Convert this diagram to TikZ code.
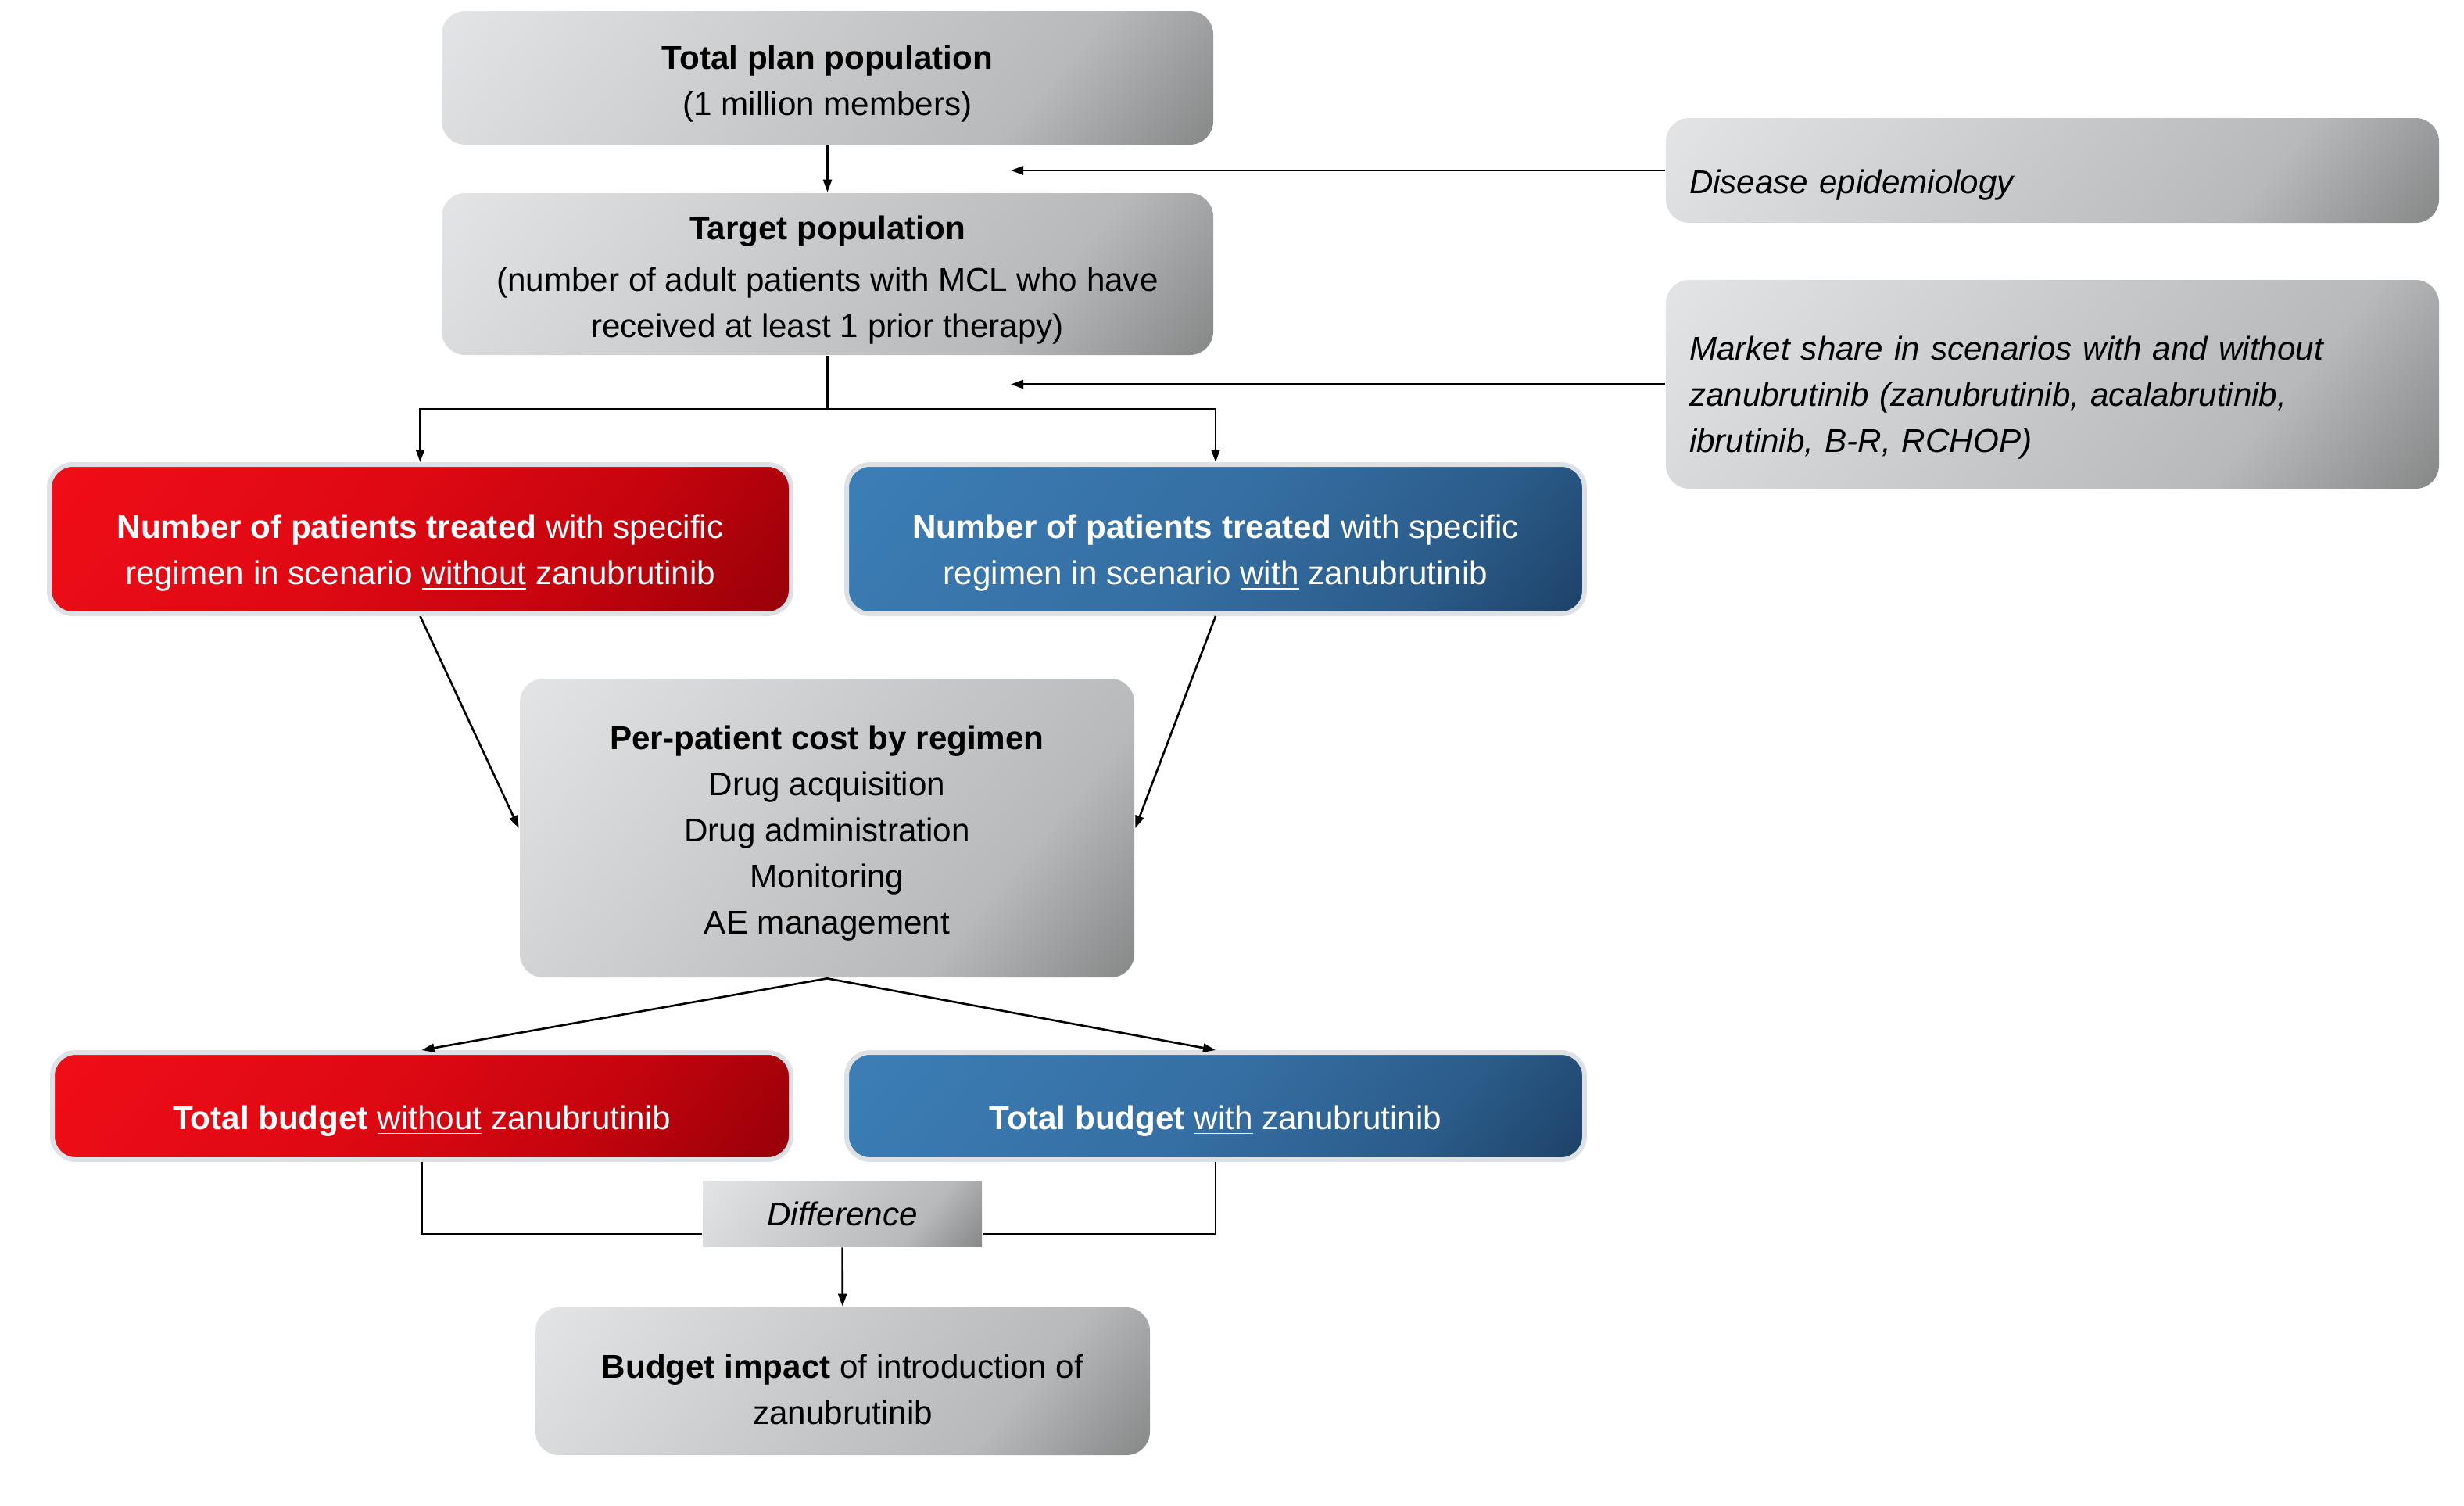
\documentclass[tikz,border=0pt]{standalone}
\usepackage{fontspec}
\setmainfont{Liberation Sans}
\usetikzlibrary{arrows.meta}

\definecolor{greyA}{RGB}{227,228,230}
\definecolor{greyB}{RGB}{198,199,201}
\definecolor{greyC}{RGB}{184,185,187}
\definecolor{greyD}{RGB}{132,133,133}
\definecolor{redA}{RGB}{240,13,23}
\definecolor{redB}{RGB}{222,9,19}
\definecolor{redC}{RGB}{198,4,14}
\definecolor{redD}{RGB}{148,0,8}
\definecolor{blueA}{RGB}{60,126,183}
\definecolor{blueB}{RGB}{53,110,162}
\definecolor{blueC}{RGB}{43,92,138}
\definecolor{blueD}{RGB}{29,64,102}
\definecolor{edgegrey}{RGB}{221,224,228}

\pgfdeclarehorizontalshading{greyshade}{100bp}{color(0bp)=(greyA); color(15bp)=(greyA); color(50bp)=(greyB); color(68bp)=(greyC); color(86bp)=(greyD); color(100bp)=(greyD)}
\pgfdeclarehorizontalshading{redshade}{100bp}{color(0bp)=(redA); color(15bp)=(redA); color(45bp)=(redB); color(65bp)=(redC); color(86bp)=(redD); color(100bp)=(redD)}
\pgfdeclarehorizontalshading{blueshade}{100bp}{color(0bp)=(blueA); color(15bp)=(blueA); color(50bp)=(blueB); color(70bp)=(blueC); color(86bp)=(blueD); color(100bp)=(blueD)}

% text lowered a little inside its box, box size kept
\newcommand{\midtext}[2][0.07cm]{\raisebox{-#1}[\height][\depth]{\begin{tabular}{@{}c@{}}#2\end{tabular}}}
\newcommand{\lefttext}[2][0.17cm]{\raisebox{-#1}[\height][\depth]{\begin{tabular}{@{}l@{}}#2\end{tabular}}}

\begin{document}
\begin{tikzpicture}[
		every node/.style={font=\fontsize{12}{16.8}\selectfont, align=center, inner sep=0pt},
		greybox/.style={shade, shading=greyshade, shading angle=-40, rounded corners=0.3cm},
		redbox/.style={shade, shading=redshade, shading angle=-40, rounded corners=0.3cm, draw=edgegrey, line width=0.06cm, text=white},
		bluebox/.style={shade, shading=blueshade, shading angle=-40, rounded corners=0.3cm, draw=edgegrey, line width=0.06cm, text=white},
		sidebox/.style={greybox, align=left, text width=9.29cm, inner xsep=0.3cm, font=\itshape\fontsize{12}{16.8}\selectfont},
		>={Triangle[length=1.6mm,width=1.1mm]}, line width=0.75pt]
				\useasboundingbox (0,0) rectangle (31.52,-19.25);

				\node[greybox, minimum width=9.87cm, minimum height=1.71cm] (total) at (10.585,-0.995) {\midtext{\textbf{Total plan population}\\(1 million members)}};
				\node[greybox, minimum width=9.87cm, minimum height=2.07cm] (target) at (10.585,-3.505) {\midtext{\textbf{Target population}\\[2pt](number of adult patients with MCL who have\\received at least 1 prior therapy)}};

				\node[sidebox, minimum height=1.34cm] (epi) at (26.255,-2.18) {\lefttext[0.18cm]{Disease epidemiology}};
				\node[sidebox, minimum height=2.67cm] (share) at (26.255,-4.915) {\lefttext[0.16cm]{Market share in scenarios with and without\\zanubrutinib (zanubrutinib, acalabrutinib,\\ibrutinib, B-R, RCHOP)}};

				\node[redbox, minimum width=9.49cm, minimum height=1.91cm] (nowo) at (5.375,-6.895) {\midtext[0.17cm]{\textbf{Number of patients treated} with specific\\regimen in scenario \underline{without} zanubrutinib}};
				\node[bluebox, minimum width=9.44cm, minimum height=1.91cm] (with) at (15.55,-6.895) {\midtext[0.17cm]{\textbf{Number of patients treated} with specific\\regimen in scenario \underline{with} zanubrutinib}};

				\node[greybox, minimum width=7.86cm, minimum height=3.82cm] (cost) at (10.58,-10.59) {\midtext[0.06cm]{\textbf{Per-patient cost by regimen}\\Drug acquisition\\Drug administration\\Monitoring\\AE management}};

				\node[redbox, minimum width=9.45cm, minimum height=1.37cm] (totnowo) at (5.395,-14.145) {\midtext[0.18cm]{\textbf{Total budget} \underline{without} zanubrutinib}};
				\node[bluebox, minimum width=9.44cm, minimum height=1.37cm] (totwith) at (15.55,-14.145) {\midtext[0.18cm]{\textbf{Total budget} \underline{with} zanubrutinib}};

				\node[greybox, sharp corners, minimum width=3.57cm, minimum height=0.84cm, font=\itshape\fontsize{12}{16.8}\selectfont] (diff) at (10.775,-15.52) {Difference};
				\node[greybox, minimum width=7.86cm, minimum height=1.89cm] (impact) at (10.78,-17.665) {\midtext[0.14cm]{\textbf{Budget impact} of introduction of\\zanubrutinib}};

				\coordinate (epiend) at (12.93,-2.18);
				\coordinate (shareend) at (12.93,-4.915);
				\coordinate (split) at (10.585,-5.23);

				\draw[->] (total) -- (target);
				\draw[->] (epi.west) -- (epiend);
				\draw[->] (share.west) -- (shareend);

				\draw (target.south) -- (split);
				\draw[->] (split) -| (nowo.north);
				\draw[->] (split) -| (with.north);

				\draw[->] (nowo.south) -- (cost.west);
				\draw[->] (with.south) -- (cost.east);

				\draw[->] (cost.south) -- (totnowo.north);
				\draw[->] (cost.south) -- (totwith.north);

				\draw (totnowo.south) |- ([yshift=-0.26cm]diff.west);
				\draw (totwith.south) |- ([yshift=-0.26cm]diff.east);
				\draw[->] (diff) -- (impact);

		\end{tikzpicture}
\end{document}
